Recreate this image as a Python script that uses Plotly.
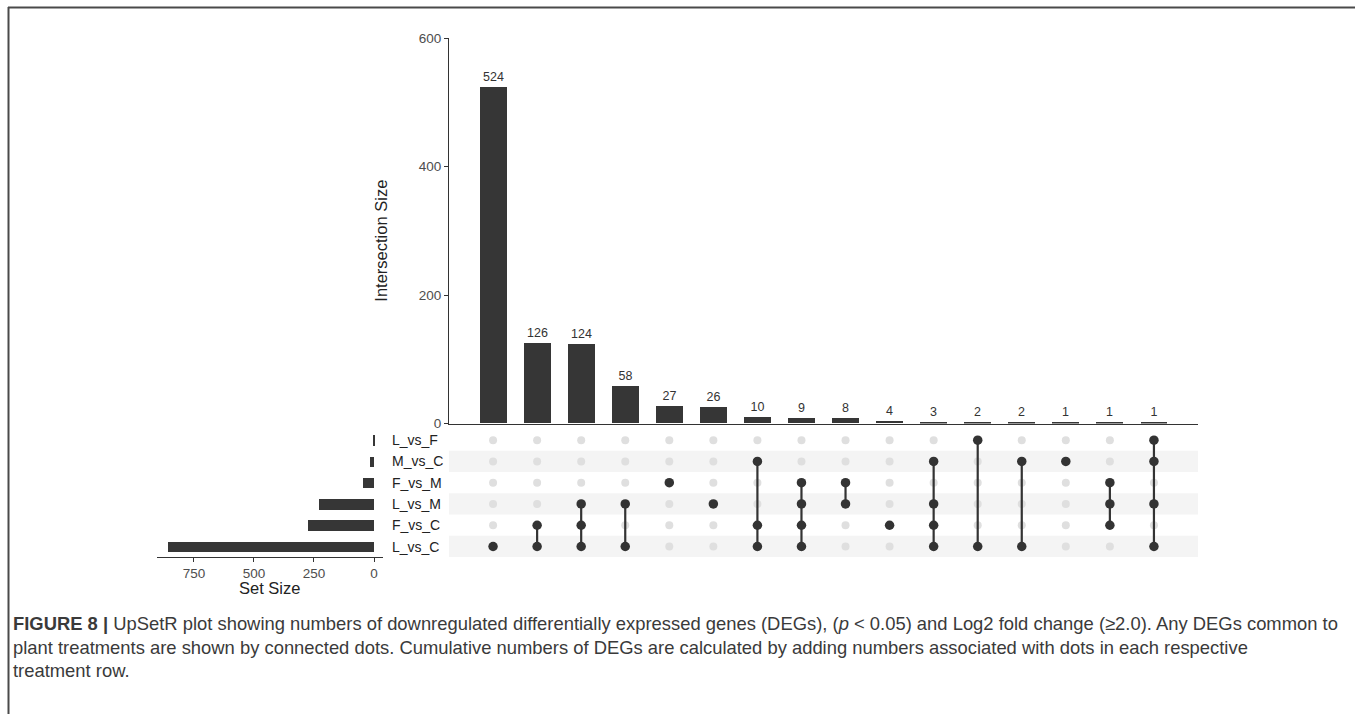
import plotly.graph_objects as go

# ---------------- data ----------------
sets = ["L_vs_F", "M_vs_C", "F_vs_M", "L_vs_M", "F_vs_C", "L_vs_C"]  # top -> bottom
set_sizes = [3, 17, 45, 230, 277, 859]
intersection_sizes = [524, 126, 124, 58, 27, 26, 10, 9, 8, 4, 3, 2, 2, 1, 1, 1]
intersection_members = [
    ["L_vs_C"],
    ["F_vs_C", "L_vs_C"],
    ["L_vs_M", "F_vs_C", "L_vs_C"],
    ["L_vs_M", "L_vs_C"],
    ["F_vs_M"],
    ["L_vs_M"],
    ["M_vs_C", "F_vs_C", "L_vs_C"],
    ["F_vs_M", "L_vs_M", "F_vs_C", "L_vs_C"],
    ["F_vs_M", "L_vs_M"],
    ["F_vs_C"],
    ["M_vs_C", "L_vs_M", "F_vs_C", "L_vs_C"],
    ["L_vs_F", "L_vs_C"],
    ["M_vs_C", "L_vs_C"],
    ["M_vs_C"],
    ["F_vs_M", "L_vs_M", "F_vs_C"],
    ["L_vs_F", "M_vs_C", "L_vs_M", "L_vs_C"],
]
set_tick_vals = [750, 500, 250, 0]
inter_tick_vals = [0, 200, 400, 600]

caption_lines = [
    "<b>FIGURE 8 |</b> UpSetR plot showing numbers of downregulated differentially expressed genes (DEGs), "
    "(<i>p</i> &lt; 0.05) and Log2 fold change (≥2.0). Any DEGs common to",
    "plant treatments are shown by connected dots. Cumulative numbers of DEGs are calculated by adding "
    "numbers associated with dots in each respective",
    "treatment row.",
]

# ---------------- layout helpers ----------------
W, H = 1355, 714
OFF_Y, EFF_H = 7.9, 697.3   # vertical placement of the drawn page
def px_x(p):
    return p / W
def px_y(p):
    return 1 - (p - OFF_Y) / EFF_H

FONT = "Liberation Sans, Arial, sans-serif"
DARK = "#363636"
n_int = len(intersection_sizes)
n_sets = len(sets)
row_of = {s: n_sets - 1 - i for i, s in enumerate(sets)}  # bottom row = 0

fig = go.Figure()

# top intersection bars
fig.add_trace(go.Bar(
    x=list(range(n_int)), y=intersection_sizes,
    marker=dict(color=DARK, line=dict(width=0)), width=0.61,
    text=[str(v) for v in intersection_sizes], textposition="outside",
    textfont=dict(family=FONT, size=12.5, color="#333333"),
    cliponaxis=False, xaxis="x", yaxis="y", showlegend=False, hoverinfo="skip",
))

# matrix: inactive dots
ix, iy, ax_, ay_ = [], [], [], []
for c, members in enumerate(intersection_members):
    for s in sets:
        if s in members:
            ax_.append(c); ay_.append(row_of[s])
        else:
            ix.append(c); iy.append(row_of[s])
fig.add_trace(go.Scatter(
    x=ix, y=iy, mode="markers", marker=dict(size=8, color="#dfdfdf"),
    xaxis="x2", yaxis="y2", showlegend=False, hoverinfo="skip",
))
# connecting lines
for c, members in enumerate(intersection_members):
    rows = [row_of[s] for s in members]
    if len(rows) > 1:
        fig.add_trace(go.Scatter(
            x=[c, c], y=[min(rows), max(rows)], mode="lines",
            line=dict(color="#333333", width=2.2),
            xaxis="x2", yaxis="y2", showlegend=False, hoverinfo="skip",
        ))
fig.add_trace(go.Scatter(
    x=ax_, y=ay_, mode="markers", marker=dict(size=9.5, color="#333333"),
    xaxis="x2", yaxis="y2", showlegend=False, hoverinfo="skip",
))

# set size bars
fig.add_trace(go.Bar(
    x=set_sizes, y=[row_of[s] for s in sets], orientation="h",
    marker=dict(color=DARK, line=dict(width=0)), width=0.5,
    xaxis="x3", yaxis="y3", showlegend=False, hoverinfo="skip",
))

# stripes
shapes = []
for s in sets:
    r = row_of[s]
    if s in ("M_vs_C", "L_vs_M", "L_vs_C"):
        shapes.append(dict(type="rect", xref="x2 domain", yref="y2", x0=0, x1=1,
                           y0=r - 0.5, y1=r + 0.5, fillcolor="#f4f4f4",
                           line=dict(width=0), layer="below"))
# outer frame (top and left edges)
shapes.append(dict(type="line", xref="paper", yref="paper", x0=px_x(8), x1=1.0,
                   y0=px_y(8.5), y1=px_y(8.5), line=dict(color="#4a4a4a", width=2)))
shapes.append(dict(type="line", xref="paper", yref="paper", x0=px_x(8.5), x1=px_x(8.5),
                   y0=px_y(8), y1=-0.05, line=dict(color="#4a4a4a", width=2)))

annotations = []
for s in sets:
    annotations.append(dict(
        text=s, xref="paper", yref="y2", x=px_x(390), y=row_of[s],
        xanchor="left", yanchor="middle", showarrow=False,
        font=dict(family=FONT, size=14, color="#222222"),
    ))
annotations.append(dict(
    text="Set Size", xref="paper", yref="paper", x=px_x(269.5), y=px_y(587),
    xanchor="center", yanchor="middle", showarrow=False,
    font=dict(family=FONT, size=16.5, color="#222222"),
))
annotations.append(dict(
    text="Intersection Size", xref="paper", yref="paper", x=px_x(381), y=px_y(241),
    xanchor="center", yanchor="middle", showarrow=False, textangle=-90,
    font=dict(family=FONT, size=16.5, color="#222222"),
))
cap_y = [623, 647, 670]
for line, yy in zip(caption_lines, cap_y):
    annotations.append(dict(
        text=line, xref="paper", yref="paper", x=px_x(11), y=px_y(yy),
        xanchor="left", yanchor="middle", showarrow=False, align="left",
        font=dict(family=FONT, size=18.4, color="#3a3a3a"),
    ))

x_dom = [px_x(449), px_x(1198)]
matrix_dom = [px_y(556.7), px_y(429.4)]

fig.update_layout(
    width=W, height=H, margin=dict(l=0, r=0, t=0, b=0),
    paper_bgcolor="white", plot_bgcolor="rgba(0,0,0,0)",
    font=dict(family=FONT, color="#333333"),
    bargap=0,
    shapes=shapes, annotations=annotations,
    xaxis=dict(domain=x_dom, range=[-1, n_int], showticklabels=False, ticks="",
               showgrid=False, zeroline=False, showline=True, linecolor="#333333",
               linewidth=1, anchor="y"),
    yaxis=dict(domain=[px_y(423.5), px_y(39)], range=[0, 600], tickvals=inter_tick_vals,
               ticks="outside", ticklen=4, tickcolor="#333333", showgrid=False,
               zeroline=False, showline=True, linecolor="#333333", linewidth=1,
               tickfont=dict(family=FONT, size=13.5, color="#4d4d4d"),
               anchor="x"),
    xaxis2=dict(domain=x_dom, range=[-1, n_int], visible=False, anchor="y2"),
    yaxis2=dict(domain=matrix_dom, range=[-0.5, n_sets - 0.5], visible=False, anchor="x2"),
    xaxis3=dict(domain=[px_x(156.7), px_x(383)], range=[905, -37.5], tickvals=set_tick_vals,
                ticks="outside", ticklen=4, tickcolor="#333333", showgrid=False,
                zeroline=False, showline=True, linecolor="#333333", linewidth=1,
                tickfont=dict(family=FONT, size=13.5, color="#4d4d4d"), anchor="y3"),
    yaxis3=dict(domain=matrix_dom, range=[-0.5, n_sets - 0.5], visible=False, anchor="x3"),
)

fig.write_html("out.html")
